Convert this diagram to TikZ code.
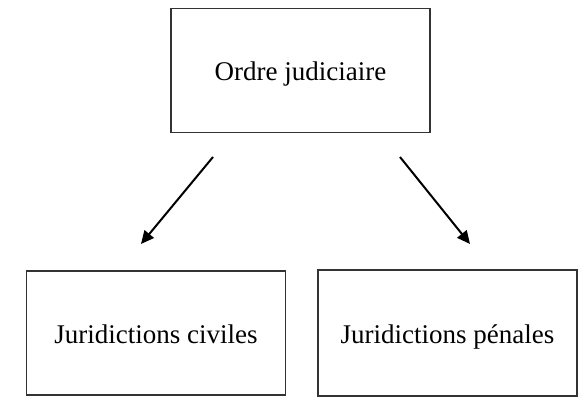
\documentclass[tikz,border=0pt]{standalone}
\usepackage{fontspec}
\setmainfont{Liberation Serif}
\usetikzlibrary{arrows.meta}
\begin{document}
\begin{tikzpicture}[x=1pt,y=-1pt,
  box/.style={draw=black!80, line width=1.3pt, inner sep=0pt, minimum width=259pt, minimum height=124pt,
    text height=20.5pt, text depth=0pt,
    font=\fontsize{27}{32}\selectfont, text=black},
  link/.style={line width=2pt, -{Triangle[length=13pt,width=12pt]}}]
\useasboundingbox (0,0) rectangle (582,411);
\node[box] (top) at (300.5,70.5) {Ordre judiciaire};
\node[box] (civ) at (156,333) {Juridictions civiles};
\node[box, minimum height=126pt] (pen) at (447.5,333) {Juridictions pénales};
\coordinate (s1) at (213,157);
\coordinate (e1) at (141,244);
\coordinate (s2) at (400,157);
\coordinate (e2) at (470,244);
\draw[link] (s1) -- (e1);
\draw[link] (s2) -- (e2);
\end{tikzpicture}
\end{document}
